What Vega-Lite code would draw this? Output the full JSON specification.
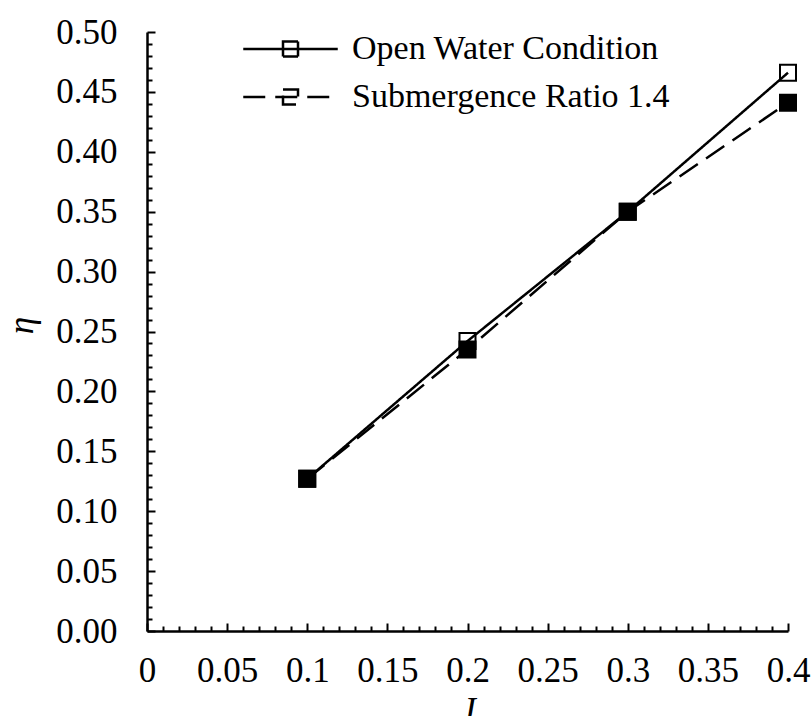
{
  "$schema": "https://vega.github.io/schema/vega-lite/v6.json",
  "autosize": "none",
  "width": 641,
  "height": 599,
  "padding": {"left": 147, "top": 32, "right": 24, "bottom": 85},
  "background": "white",
  "config": {
    "view": {"stroke": null},
    "font": "Liberation Serif",
    "axis": {"grid": false, "domainColor": "black", "domainWidth": 2.5, "tickColor": "black", "tickWidth": 2, "labelColor": "black", "labelFont": "Liberation Serif", "labelFontSize": 35, "titleFont": "Liberation Serif", "titleFontSize": 35, "titleFontStyle": "italic", "titleFontWeight": "normal", "titleColor": "black", "labelOverlap": false, "labelBound": false, "labelFlush": false},
    "legend": {"labelFont": "Liberation Serif", "labelFontSize": 34, "labelColor": "black", "labelLimit": 0}
  },
  "data": {
    "values": [
      {"J": 0.1, "eta": 0.127, "series": "Open Water Condition"},
      {"J": 0.2, "eta": 0.242, "series": "Open Water Condition"},
      {"J": 0.3, "eta": 0.350, "series": "Open Water Condition"},
      {"J": 0.4, "eta": 0.466, "series": "Open Water Condition"},
      {"J": 0.1, "eta": 0.127, "series": "Submergence Ratio 1.4"},
      {"J": 0.2, "eta": 0.235, "series": "Submergence Ratio 1.4"},
      {"J": 0.3, "eta": 0.350, "series": "Submergence Ratio 1.4"},
      {"J": 0.4, "eta": 0.441, "series": "Submergence Ratio 1.4"}
    ]
  },
  "encoding": {
    "x": {
      "field": "J", "type": "quantitative",
      "scale": {"domain": [0, 0.4], "nice": false, "zero": false},
      "axis": {
        "title": "J",
        "values": [0,0.01,0.02,0.03,0.04,0.05,0.06,0.07,0.08,0.09,0.1,0.11,0.12,0.13,0.14,0.15,0.16,0.17,0.18,0.19,0.2,0.21,0.22,0.23,0.24,0.25,0.26,0.27,0.28,0.29,0.3,0.31,0.32,0.33,0.34,0.35,0.36,0.37,0.38,0.39,0.4],
        "labelExpr": "abs(datum.value*20 - round(datum.value*20)) < 0.000001 ? format(datum.value, '~g') : ''",
        "tickSize": {"condition": {"test": "abs(datum.value*20 - round(datum.value*20)) < 0.000001", "value": -8}, "value": -5},
        "labelPadding": 30,
        "labelBaseline": "top",
        "titleY": 62,
        "titleBaseline": "top"
      }
    },
    "y": {
      "field": "eta", "type": "quantitative",
      "scale": {"domain": [0, 0.5], "nice": false, "zero": false},
      "axis": {
        "title": "η",
        "values": [0,0.01,0.02,0.03,0.04,0.05,0.06,0.07,0.08,0.09,0.1,0.11,0.12,0.13,0.14,0.15,0.16,0.17,0.18,0.19,0.2,0.21,0.22,0.23,0.24,0.25,0.26,0.27,0.28,0.29,0.3,0.31,0.32,0.33,0.34,0.35,0.36,0.37,0.38,0.39,0.4,0.41,0.42,0.43,0.44,0.45,0.46,0.47,0.48,0.49,0.5],
        "labelExpr": "abs(datum.value*20 - round(datum.value*20)) < 0.000001 ? format(datum.value, '.2f') : ''",
        "tickSize": {"condition": {"test": "abs(datum.value*20 - round(datum.value*20)) < 0.000001", "value": -8}, "value": -5},
        "labelPadding": 38,
        "titleX": -126,
        "titleY": 293,
        "titleBaseline": "middle",
        "titleAngle": 270
      }
    }
  },
  "layer": [
    {
      "mark": {"type": "line", "stroke": "black", "strokeWidth": 2.5},
      "encoding": {
        "strokeDash": {
          "field": "series", "type": "nominal",
          "scale": {"domain": ["Open Water Condition", "Submergence Ratio 1.4"], "range": [[1, 0], [22, 10]]},
          "legend": {"title": null, "orient": "top-left", "offset": 0, "symbolType": "M-6.3,0H6.3M-1,-1H1V1H-1Z", "symbolSize": 225, "symbolOffset": 126.5, "symbolFillColor": "transparent", "symbolStrokeColor": "black", "symbolStrokeWidth": 2.5, "labelOffset": 44.5, "rowPadding": 14}
        }
      }
    },
    {
      "transform": [{"filter": "datum.series === 'Submergence Ratio 1.4'"}],
      "mark": {"type": "point", "shape": "square", "size": 256, "stroke": "black", "strokeWidth": 2, "fill": "black", "opacity": 1}
    },
    {
      "transform": [{"filter": "datum.series === 'Open Water Condition'"}],
      "mark": {"type": "point", "shape": "square", "size": 256, "stroke": "black", "strokeWidth": 2, "fill": "transparent", "opacity": 1}
    }
  ]
}
